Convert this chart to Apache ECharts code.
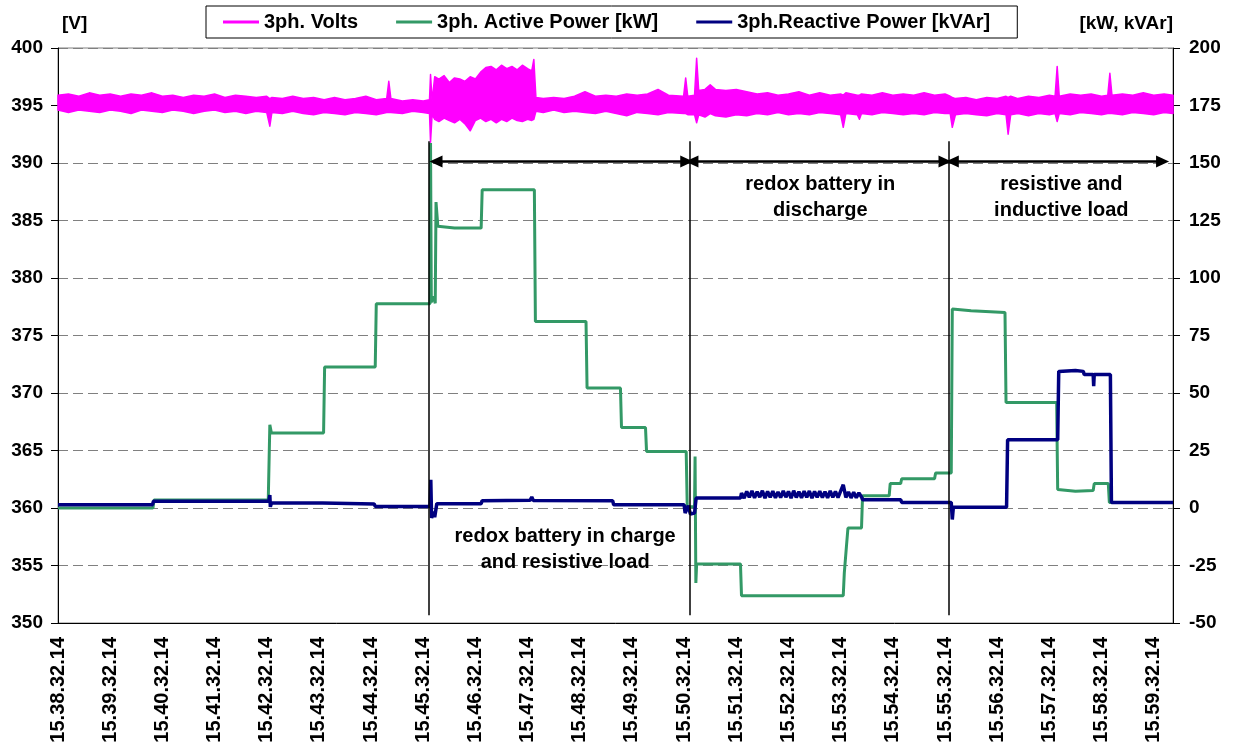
<!DOCTYPE html>
<html><head><meta charset="utf-8">
<script src="https://cdn.jsdelivr.net/npm/echarts@6/dist/echarts.min.js"></script>
<style>html,body{margin:0;padding:0;background:#fff}#c{width:1234px;height:751px}</style>
</head><body><div id="c"></div>
<script>
// x values are minutes after 15.38.32.14
const tickLabels = ['15.38.32.14','15.39.32.14','15.40.32.14','15.41.32.14','15.42.32.14','15.43.32.14','15.44.32.14','15.45.32.14','15.46.32.14','15.47.32.14','15.48.32.14','15.49.32.14','15.50.32.14','15.51.32.14','15.52.32.14','15.53.32.14','15.54.32.14','15.55.32.14','15.56.32.14','15.57.32.14','15.58.32.14','15.59.32.14'];
const seriesNames = ['3ph. Volts','3ph. Active Power [kW]','3ph.Reactive Power [kVAr]'];

// 3ph. Volts: envelope of the noisy trace (low / high) [V]
const voltT = [0,0.2,0.4,0.6,0.8,1.0,1.2,1.4,1.6,1.8, 2.0,2.2,2.4,2.6,2.8,3.0,3.2,3.4,3.6,3.8, 4.0,4.06,4.1,4.3,4.5,4.7,4.9,5.1,5.3,5.5, 5.7,5.9,6.1,6.3,6.34,6.38,6.6,6.8,7.0,7.12, 7.14,7.17,7.22,7.3,7.4,7.5,7.6,7.7,7.8,7.9, 8.0,8.1,8.2,8.3,8.4,8.5,8.6,8.7,8.8,8.9, 9.0,9.08,9.12,9.16,9.3,9.5,9.7,9.9,10.1,10.3, 10.5,10.7,10.9,11.1,11.3,11.5,11.7,11.99,12.03,12.07, 12.2,12.24,12.28,12.4,12.5,12.6,12.8,13.0,13.2,13.4, 13.6,13.8,14.0,14.2,14.4,14.6,14.8,15.0,15.05,15.1, 15.32,15.36,15.4,15.6,15.8,16.0,16.2,16.4,16.6,16.8, 17.0,17.1,17.14,17.2,17.4,17.6,17.8,18.0,18.17,18.21, 18.26,18.4,18.6,18.8,19.0,19.11,19.15,19.19,19.4,19.6, 19.8,20.0,20.12,20.16,20.2,20.4,20.6,20.8,21.0,21.2, 21.37];
const voltLo = [394.6,394.4,394.6,394.5,394.4,394.6,394.5,394.3,394.6,394.5, 394.4,394.6,394.5,394.3,394.5,394.6,394.4,394.5,394.3,394.5, 394.4,393.2,394.4,394.3,394.5,394.3,394.2,394.4,394.3,394.2, 394.4,394.3,394.2,394.4,394.4,394.4,394.3,394.5,394.4,394.3, 391.8,394.2,393.8,393.6,393.9,393.7,393.5,393.8,393.4,392.8, 393.7,393.9,393.6,393.8,393.5,393.8,393.6,393.9,393.7,393.6, 393.8,393.7,393.8,394.5,394.4,394.6,394.4,394.5,394.4,394.3, 394.5,394.3,394.1,394.4,394.3,394.2,394.4,394.3,394.3,394.2, 394.2,393.5,394.2,394.0,394.3,394.1,394.0,394.2,394.1,394.3, 394.2,394.4,394.2,394.3,394.2,394.4,394.3,394.2,393.1,394.3, 394.2,393.8,394.3,394.2,394.4,394.3,394.2,394.3,394.2,394.4, 394.3,394.3,393.1,394.2,394.3,394.2,394.1,394.3,394.2,392.5, 394.2,394.3,394.1,394.3,394.2,394.3,393.6,394.3,394.2,394.4, 394.3,394.2,394.3,394.3,394.3,394.2,394.4,394.3,394.2,394.4, 394.3];
const voltHi = [395.9,396.0,395.8,396.1,395.9,396.0,395.8,396.0,395.9,396.1, 395.8,395.9,395.7,395.9,395.8,396.0,395.7,395.9,395.8,395.7, 395.8,395.6,395.7,395.6,395.8,395.6,395.7,395.5,395.7,395.5, 395.6,395.8,395.5,395.6,397.1,395.6,395.4,395.5,395.4,395.5, 397.7,395.4,397.5,397.3,397.6,397.0,397.4,397.3,397.1,397.5, 397.3,397.9,398.3,398.4,398.1,398.5,398.2,398.4,398.1,398.5, 398.2,398.0,399.0,395.7,395.6,395.7,395.6,395.8,396.2,395.8, 395.9,395.8,396.0,395.9,396.0,396.4,395.9,395.8,397.4,395.8, 395.9,399.1,396.3,396.4,396.8,396.4,396.3,396.4,396.2,396.0, 396.1,395.9,396.0,396.2,395.9,396.1,395.9,396.0,395.9,396.1, 395.9,395.9,396.0,395.9,396.1,395.9,396.0,395.9,396.1,395.9, 396.0,395.8,395.7,395.6,395.7,395.5,395.7,395.6,395.8,395.7, 395.8,395.6,395.8,395.7,395.9,395.8,398.4,395.8,396.0,395.9, 396.0,395.8,395.9,397.8,395.9,396.0,395.9,396.1,395.9,396.0, 395.9];

// 3ph. Active Power [kW]
const activeT = [0,1.82,1.84,4.03,4.06,4.09,5.09,5.11,6.08,6.10, 7.13,7.14,7.155,7.2,7.23,7.245,7.28,7.6,8.11,8.13, 9.13,9.15,10.12,10.14,10.78,10.80,11.26,11.28,12.04,12.06, 12.2,12.21,12.225,12.24,13.08,13.10,15.05,15.07,15.11,15.14, 15.40,15.42,15.93,15.95,16.15,16.17,16.80,16.82,17.12,17.14, 17.5,18.15,18.17,19.14,19.16,19.5,19.84,19.86,20.13,20.15, 21.37];
const activeKW = [0,0,3.5,3.5,36.2,32.6,32.6,61.3,61.3,88.8, 88.8,158.7,89.5,92,89,133,122.5,121.7,121.7,138.4, 138.4,81.1,81.1,52.2,52.2,35.0,35.0,24.6,24.6,0.5, 0.5,22.4,-32.6,-24.3,-24.3,-38.1,-38.1,-28.3,-17,-8.7, -8.7,5.3,5.3,10.6,10.6,12.7,12.7,15.2,15.2,86.5, 85.8,85.0,45.9,45.9,8.0,7.3,7.6,10.6,10.6,2.4, 2.4];

// 3ph. Reactive Power [kVAr]
const reactT = [0,1.81,1.83,4.04,4.06,4.07,4.09,5.07,5.09,6.06, 6.08,7.13,7.145,7.16,7.2,7.22,7.26,8.11,8.13,9.05, 9.08,9.11,10.63,10.65,12.0,12.02,12.08,12.12,12.2,12.23, 13.08,
  13.10,13.15,13.20,13.25,13.30,13.35,13.40,13.45,13.50,13.55,13.60,13.65,13.70,13.75,13.80,13.85,13.90,13.95,14.00,14.05,14.10,14.15,14.20,14.25,14.30,14.35,14.40,14.45,14.50,14.55,14.60,14.65,14.70,14.75,14.80,14.85,14.90,14.95,15.00,15.05,15.10,15.15,15.20,15.25,15.30,15.35,15.40,
  15.42,16.15,16.17,17.12,17.14,17.16,18.18,18.20,19.16,19.18,19.5,19.65,19.67,19.84,19.85,19.86,20.17,20.19,21.37];
const reactKVAr = [1.4,1.4,2.9,2.9,5.6,0.5,2.2,2.2,1.7,1.7, 0.7,0.7,12.3,-4.3,-1.5,-4,1.9,1.9,3.2,3.4, 4.8,3.3,3.2,1.4,1.4,-2.2,1.0,-2.6,-2.2,4.3, 4.3,
  6.5,4.3,7.2,4.6,7.4,4.4,7.1,4.7,7.5,4.3,7.2,4.6,7.3,4.4,7.0,4.5,7.4,4.7,7.2,4.3,7.5,4.6,7.1,4.4,7.3,4.6,7.4,4.3,7.2,4.7,7.3,4.5,7.1,4.4,7.4,4.6,7.2,4.5,7.3,10.1,4.6,7.0,4.4,6.8,4.5,6.6,4.8,
  3.6,3.6,2.4,2.4,-5,0.3,0.3,29.7,29.7,59.4,59.8,59.4,58.0,58.0,53,58.0,58.0,2.4,2.4];

// annotations (minutes, kW on right axis)
const dividerT = [7.115, 12.115, 17.07];
const dividerTopKW = 159.5, dividerBottomKW = -46.6;
const arrowFrom = [7.245, 12.15, 17.14];
const arrowTo = [12.05, 17.0, 21.17];
const arrowKW = 150.7;
const noteText = ['redox battery in charge\nand resistive load', 'redox battery in\ndischarge', 'resistive and\ninductive load'];
const noteT = [9.72, 14.61, 19.23];
const noteKW = [-18.15, 135, 135];

const FONT = '"Liberation Sans", Arial, sans-serif';
const X_MAX = 21.37;

const chart = echarts.init(document.getElementById('c'), null, {renderer: 'canvas'});

const markLineData = dividerT.map(t => [{coord: [t, dividerTopKW]}, {coord: [t, dividerBottomKW]}])
  .concat(arrowFrom.map((a, i) => [
    {coord: [a, arrowKW], symbol: 'triangle', symbolSize: [12, 13], lineStyle: {width: 2.5}},
    {coord: [arrowTo[i], arrowKW], symbol: 'triangle', symbolSize: [12, 13]}
  ]));

function renderVoltBand(params, api) {
  const pts = [];
  for (let i = 0; i < voltT.length; i++) pts.push(api.coord([voltT[i], voltHi[i]]));
  for (let i = voltT.length - 1; i >= 0; i--) pts.push(api.coord([voltT[i], voltLo[i]]));
  return {type: 'polygon', shape: {points: pts}, style: {fill: '#FF00FF', stroke: '#FF00FF', lineWidth: 1.5, lineJoin: 'round'}};
}

const option = {
  animation: false,
  backgroundColor: '#fff',
  textStyle: {fontFamily: FONT},
  legend: {
    data: seriesNames,
    left: 206, top: 6,
    padding: [6, 27, 6, 17],
    itemGap: 38,
    itemWidth: 36, itemHeight: 3,
    icon: 'rect',
    borderColor: '#000', borderWidth: 1,
    backgroundColor: '#fff',
    textStyle: {fontFamily: FONT, fontSize: 20, fontWeight: 'bold', color: '#000'},
    selectedMode: false
  },
  grid: {left: 58, right: 61, top: 48, height: 575, show: true, borderColor: '#808080', borderWidth: 1, containLabel: false, outerBoundsMode: 'none'},
  xAxis: {
    type: 'value', min: 0, max: X_MAX, interval: 1,
    axisLine: {show: true, onZero: false, lineStyle: {color: '#000', width: 1}},
    axisTick: {show: false},
    splitLine: {show: false},
    axisLabel: {
      rotate: 90, margin: 14, showMaxLabel: false, showMinLabel: true, hideOverlap: false,
      fontFamily: FONT, fontSize: 20, fontWeight: 'bold', color: '#000',
      formatter: v => (Math.abs(v - Math.round(v)) < 1e-6 && tickLabels[Math.round(v)]) ? tickLabels[Math.round(v)] : ''
    }
  },
  yAxis: [{
    type: 'value', position: 'left', min: 350, max: 400, interval: 5,
    name: '[V]', nameLocation: 'end', nameGap: 15,
    nameTextStyle: {fontFamily: FONT, fontSize: 19, fontWeight: 'bold', color: '#000', align: 'left', padding: [0, 0, 0, 4]},
    axisLine: {show: true, onZero: false, lineStyle: {color: '#000', width: 1}},
    axisTick: {show: true, length: 7, lineStyle: {color: '#000'}},
    axisLabel: {margin: 15, fontFamily: FONT, fontSize: 19, fontWeight: 'bold', color: '#000'},
    splitLine: {show: true, lineStyle: {color: '#808080', width: 1, type: [10, 5]}}
  }, {
    type: 'value', position: 'right', min: -50, max: 200, interval: 25,
    name: '[kW, kVAr]', nameLocation: 'end', nameGap: 15,
    nameTextStyle: {fontFamily: FONT, fontSize: 19, fontWeight: 'bold', color: '#000', align: 'right', padding: [0, 0, 0, 0]},
    axisLine: {show: true, onZero: false, lineStyle: {color: '#000', width: 1}},
    axisTick: {show: true, length: 7, lineStyle: {color: '#000'}},
    axisLabel: {margin: 16, fontFamily: FONT, fontSize: 19, fontWeight: 'bold', color: '#000'},
    splitLine: {show: false}
  }],
  series: [{
    name: seriesNames[0], type: 'line', yAxisIndex: 0,
    symbol: 'none', showSymbol: false, silent: true,
    itemStyle: {color: '#FF00FF'},
    lineStyle: {color: '#FF00FF', width: 3},
    data: []
  }, {
    name: 'voltsBand', type: 'custom', yAxisIndex: 0, silent: true,
    encode: {x: 0, y: 1},
    data: [[voltT[0], voltHi[0]]],
    renderItem: renderVoltBand,
    z: 2
  }, {
    name: seriesNames[1], type: 'line', yAxisIndex: 1,
    symbol: 'none', showSymbol: false, silent: true,
    itemStyle: {color: '#339966'},
    lineStyle: {color: '#339966', width: 3},
    data: activeT.map((t, i) => [t, activeKW[i]]),
    z: 3,
    markLine: {
      silent: true, symbol: ['none', 'none'],
      label: {show: false},
      lineStyle: {color: '#000', width: 1.5, type: 'solid'},
      emphasis: {disabled: true},
      data: markLineData
    },
    markPoint: {
      silent: true, symbol: 'circle', symbolSize: 1,
      itemStyle: {color: 'rgba(0,0,0,0)'},
      label: {show: true, position: 'inside', formatter: '{b}', color: '#000', fontFamily: FONT, fontSize: 20, fontWeight: 'bold', lineHeight: 26, align: 'center'},
      data: noteText.map((s, i) => ({name: s, coord: [noteT[i], noteKW[i]]}))
    }
  }, {
    name: seriesNames[2], type: 'line', yAxisIndex: 1,
    symbol: 'none', showSymbol: false, silent: true,
    itemStyle: {color: '#000080'},
    lineStyle: {color: '#000080', width: 3.5},
    data: reactT.map((t, i) => [t, reactKVAr[i]]),
    z: 4
  }]
};
chart.setOption(option);
</script>
</body></html>
